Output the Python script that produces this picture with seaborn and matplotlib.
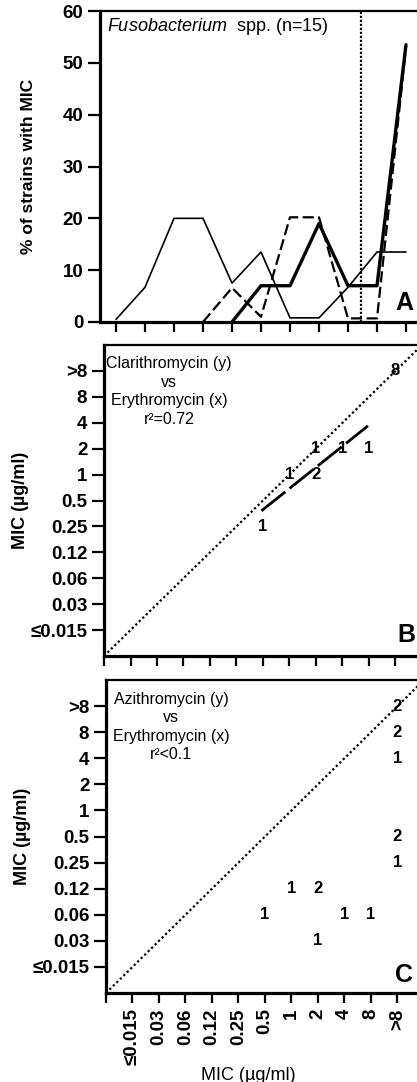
import numpy as np
import pandas as pd
import matplotlib
matplotlib.use("Agg")
import matplotlib.pyplot as plt
import seaborn as sns

# ---------------- data ----------------
mic_labels = ['≤0.015', '0.03', '0.06', '0.12', '0.25', '0.5', '1', '2', '4', '8', '>8']
mic_pos = list(range(1, 12))

# Panel A: % of strains with MIC (n=15)
pct_azithro = [0.5, 6.7, 20, 20, 7.5, 13.5, 0.8, 0.8, 6.7, 13.5, 13.5]          # thin solid
pct_erythro = [np.nan, np.nan, np.nan, np.nan, 0, 7, 7, 19, 7, 7, 53.5]        # thick solid
pct_clari = [np.nan, np.nan, np.nan, 0, 6.6, 1, 20.2, 20.2, 0.7, 0.7, 53]      # dashed
breakpoint_pos = 9.45
pct_ticks = [0, 10, 20, 30, 40, 50, 60]

# Panel B: clarithromycin (y) vs erythromycin (x), counts
b_x = [11, 8, 7, 8, 9, 10, 6]
b_y = [11, 8, 7, 7, 8, 8, 5]
b_n = [8, 1, 1, 2, 1, 1, 1]
b_reg_x = [5.94, 9.96]
b_reg_y = [5.6, 8.88]
b_title = "Clarithromycin (y)\nvs\nErythromycin (x)\nr²=0.72"

# Panel C: azithromycin (y) vs erythromycin (x), counts
c_x = [11, 11, 11, 11, 11, 7, 8, 6, 9, 10, 8]
c_y = [11, 10, 9, 6, 5, 4, 4, 3, 3, 3, 2]
c_n = [2, 2, 1, 2, 1, 1, 2, 1, 1, 1, 1]
c_title = "Azithromycin (y)\nvs\nErythromycin (x)\nr²<0.1"

diag = [0, 12]

# ---------------- style ----------------
sns.set_theme(style="ticks")
plt.rcParams['font.family'] = ['Liberation Sans', 'DejaVu Sans']
plt.rcParams['mathtext.fontset'] = 'custom'
plt.rcParams['mathtext.it'] = 'Liberation Sans:italic'
plt.rcParams['mathtext.rm'] = 'Liberation Sans'
plt.rcParams['text.color'] = 'black'
plt.rcParams['axes.labelcolor'] = 'black'
plt.rcParams['xtick.color'] = 'black'
plt.rcParams['ytick.color'] = 'black'

W, H = 417, 1082
fig = plt.figure(figsize=(W / 100, H / 100), dpi=100)
fig.patch.set_facecolor('white')


def fr(left, bottom, right, top):
    return [left / W, (H - bottom) / H, (right - left) / W, (bottom - top) / H]


axA = fig.add_axes(fr(100, 322, 435, 11))
axB = fig.add_axes(fr(104, 656, 422, 345))
axC = fig.add_axes(fr(106, 993, 424, 680))


def style_axes(ax):
    ax.set_facecolor('white')
    for s in ['left', 'bottom']:
        ax.spines[s].set_linewidth(2.3)
    for s in ['top', 'right']:
        ax.spines[s].set_linewidth(1.6)
    for s in ax.spines.values():
        s.set_color('black')
    ax.tick_params(axis='y', length=9, width=1.6, pad=3, direction='out',
                   labelsize=13.5, colors='black')
    ax.tick_params(axis='x', length=7, width=1.6, pad=4, direction='out',
                   labelsize=13.5, colors='black')
    for lab in ax.get_yticklabels() + ax.get_xticklabels():
        lab.set_fontweight('bold')


# ---------------- Panel A ----------------
dfA = pd.DataFrame({'pos': mic_pos, 'azi': pct_azithro, 'ery': pct_erythro, 'cla': pct_clari})
d = dfA[['pos', 'azi']].dropna()
sns.lineplot(x=d['pos'], y=d['azi'], ax=axA, color='black', lw=1.2)
d = dfA[['pos', 'cla']].dropna()
sns.lineplot(x=d['pos'], y=d['cla'], ax=axA, color='black', lw=1.6, dashes=False,
             linestyle=(0, (5, 2)))
d = dfA[['pos', 'ery']].dropna()
sns.lineplot(x=d['pos'], y=d['ery'], ax=axA, color='black', lw=2.4)
axA.axvline(breakpoint_pos, color='black', lw=1.6, linestyle=(0, (1, 0.8)))

axA.set_xlim(1 - 16 / 29, 12.0)
axA.set_ylim(0, 60)
axA.set_xticks(mic_pos)
axA.set_xticklabels([])
axA.set_yticks(pct_ticks)
axA.set_yticklabels([str(t) for t in pct_ticks])
axA.set_xlabel('')
axA.set_ylabel('% of strains with MIC', fontsize=12.5, fontweight='bold', labelpad=19)
style_axes(axA)
axA.text(0.021, 0.949, r"$\it{Fusobacterium}$  spp. (n=15)", transform=axA.transAxes,
         ha='left', va='center', fontsize=13, color='black')
axA.text(10.62, 2.3, 'A', ha='left', va='baseline', fontsize=18, fontweight='bold',
         color='black')


# ---------------- Panels B & C ----------------
def scatter_panel(ax, xs, ys, ns, title, letter, letter_pos):
    sns.lineplot(x=diag, y=diag, ax=ax, color='black', lw=1.6, linestyle=(0, (1, 1.2)))
    for x, y, n in zip(xs, ys, ns):
        ax.text(x, y, str(n), ha='center', va='center', fontsize=12, fontweight='bold',
                color='black')
    ax.text(2.45, 10.2, title, ha='center', va='center', fontsize=11.5, linespacing=1.3,
            color='black')
    ax.text(letter_pos[0], letter_pos[1], letter, ha='left', va='baseline', fontsize=18,
            fontweight='bold', color='black')
    ax.set_xlim(0, 12)
    ax.set_ylim(0, 12)
    ax.set_xticks([0] + mic_pos)
    ax.set_yticks(mic_pos)
    ax.set_yticklabels(mic_labels)
    ax.set_ylabel('MIC (µg/ml)', fontsize=13, fontweight='bold', labelpad=1)


scatter_panel(axB, b_x, b_y, b_n, b_title, 'B', (11.06, 0.54))
sns.lineplot(x=b_reg_x, y=b_reg_y, ax=axB, color='black', lw=2.0, linestyle=(0, (11, 2)))
axB.set_xticklabels([])
style_axes(axB)

scatter_panel(axC, c_x, c_y, c_n, c_title, 'C', (10.9, 0.42))
axC.set_xticklabels([''] + mic_labels, rotation=90)
axC.set_xlabel('MIC (µg/ml)', fontsize=13, labelpad=4)
axC.xaxis.set_label_coords(0.447, -0.235)
style_axes(axC)

fig.savefig('out.png', dpi=100)
